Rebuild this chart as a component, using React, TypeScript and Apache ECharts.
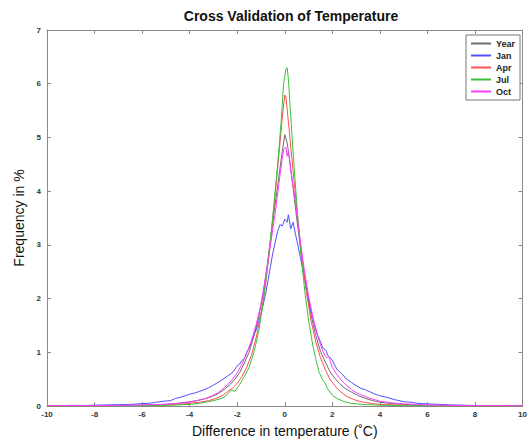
import React, { useEffect, useRef } from "react";
import * as echarts from "echarts";

const seriesNames = ["Year", "Jan", "Apr", "Jul", "Oct"];
const seriesColors = ["#6e6e6e", "#5050ff", "#ff5050", "#3cc03c", "#ff3cff"];

const xTicks = [-10, 10, 2];
const yTicks = [0, 7, 1];

const yearData: number[][] = [
  [-10, 0.0], [-9, 0.003], [-8, 0.005], [-7, 0.008], [-6, 0.015], [-5.5, 0.02], [-5, 0.03], [-4.5, 0.05],
  [-4, 0.08], [-3.7, 0.1], [-3.4, 0.13], [-3.1, 0.17], [-2.8, 0.23], [-2.5, 0.32], [-2.3, 0.4], [-2.1, 0.5],
  [-1.9, 0.62], [-1.7, 0.8], [-1.5, 1.0], [-1.3, 1.3], [-1.1, 1.65], [-0.9, 2.1], [-0.7, 2.75], [-0.5, 3.45],
  [-0.3, 4.1], [-0.15, 4.6], [0, 5.05], [0.1, 4.9], [0.2, 4.6], [0.35, 4.05], [0.5, 3.5], [0.7, 2.8],
  [0.9, 2.2], [1.1, 1.7], [1.3, 1.32], [1.5, 1.02], [1.7, 0.82], [1.9, 0.64], [2.1, 0.52], [2.3, 0.42],
  [2.5, 0.34], [2.8, 0.26], [3.1, 0.19], [3.4, 0.14], [3.7, 0.1], [4, 0.07], [4.5, 0.045], [5, 0.03],
  [5.5, 0.02], [6, 0.012], [7, 0.007], [8, 0.004], [9, 0.002], [10, 0.0],
];

const janData: number[][] = [
  [-10, 0.01], [-9.5, 0.005], [-9, 0.012], [-8.5, 0.01], [-8, 0.015], [-7.5, 0.02], [-7, 0.025], [-6.5, 0.03],
  [-6, 0.045], [-5.7, 0.05], [-5.4, 0.07], [-5.1, 0.09], [-4.8, 0.1], [-4.6, 0.14], [-4.4, 0.16], [-4.2, 0.19],
  [-4, 0.22], [-3.8, 0.24], [-3.6, 0.27], [-3.4, 0.3], [-3.2, 0.34], [-3, 0.39], [-2.8, 0.44], [-2.6, 0.5],
  [-2.4, 0.56], [-2.2, 0.62], [-2.0, 0.75], [-1.9, 0.78], [-1.8, 0.85], [-1.7, 0.88], [-1.6, 1.0], [-1.5, 1.08],
  [-1.4, 1.2], [-1.3, 1.32], [-1.2, 1.42], [-1.1, 1.56], [-1.0, 1.72], [-0.9, 1.9], [-0.8, 2.1], [-0.7, 2.35],
  [-0.6, 2.6], [-0.5, 2.85], [-0.4, 3.05], [-0.3, 3.25], [-0.2, 3.38], [-0.1, 3.35], [0, 3.48], [0.1, 3.42],
  [0.15, 3.56], [0.25, 3.3], [0.35, 3.42], [0.45, 3.2], [0.55, 3.0], [0.65, 2.78], [0.8, 2.45], [0.9, 2.2],
  [1.0, 2.0], [1.1, 1.78], [1.2, 1.6], [1.3, 1.42], [1.4, 1.3], [1.5, 1.2], [1.6, 1.08], [1.7, 1.05],
  [1.75, 1.02], [1.8, 0.95], [1.9, 0.9], [2.0, 0.85], [2.1, 0.76], [2.2, 0.68], [2.4, 0.6], [2.6, 0.5],
  [2.8, 0.44], [3.0, 0.38], [3.2, 0.33], [3.4, 0.3], [3.6, 0.26], [3.8, 0.22], [4.0, 0.19], [4.3, 0.16],
  [4.6, 0.12], [5.0, 0.08], [5.3, 0.07], [5.6, 0.05], [6.0, 0.04], [6.5, 0.03], [7, 0.02], [7.5, 0.015],
  [8, 0.01], [9, 0.008], [10, 0.01],
];

const aprData: number[][] = [
  [-10, 0], [-8, 0.004], [-6, 0.01], [-5, 0.02], [-4.5, 0.03], [-4, 0.05], [-3.6, 0.07], [-3.2, 0.1],
  [-2.9, 0.14], [-2.6, 0.2], [-2.4, 0.27], [-2.2, 0.33], [-2.0, 0.42], [-1.8, 0.55], [-1.6, 0.72], [-1.4, 0.95],
  [-1.2, 1.28], [-1.0, 1.72], [-0.8, 2.3], [-0.6, 3.05], [-0.4, 3.95], [-0.2, 4.9], [-0.1, 5.4], [0, 5.79],
  [0.05, 5.75], [0.15, 5.3], [0.3, 4.6], [0.5, 3.7], [0.7, 2.85], [0.9, 2.15], [1.1, 1.6], [1.3, 1.2],
  [1.5, 0.9], [1.7, 0.68], [1.9, 0.5], [2.1, 0.38], [2.3, 0.28], [2.6, 0.18], [2.9, 0.12], [3.2, 0.08],
  [3.6, 0.05], [4, 0.03], [5, 0.015], [6, 0.008], [8, 0.003], [10, 0],
];

const julData: number[][] = [
  [-10, 0], [-8, 0.003], [-6, 0.008], [-5, 0.012], [-4.5, 0.02], [-4, 0.03], [-3.6, 0.05], [-3.2, 0.08],
  [-2.9, 0.11], [-2.6, 0.15], [-2.4, 0.22], [-2.25, 0.3], [-2.1, 0.27], [-1.9, 0.4], [-1.7, 0.55], [-1.5, 0.72],
  [-1.3, 1.0], [-1.1, 1.38], [-0.9, 1.95], [-0.7, 2.7], [-0.5, 3.55], [-0.3, 4.5], [-0.15, 5.3], [-0.05, 6.0],
  [0.05, 6.28], [0.1, 6.3], [0.15, 6.1], [0.25, 5.4], [0.4, 4.4], [0.55, 3.5], [0.7, 2.75], [0.85, 2.1],
  [1.0, 1.6], [1.15, 1.2], [1.3, 0.88], [1.45, 0.62], [1.6, 0.48], [1.7, 0.42], [1.8, 0.32], [2.0, 0.2],
  [2.2, 0.14], [2.5, 0.08], [2.8, 0.05], [3.2, 0.03], [4, 0.015], [5, 0.008], [7, 0.003], [10, 0],
];

const octData: number[][] = [
  [-10, 0.005], [-9, 0.01], [-8, 0.008], [-7, 0.012], [-6, 0.02], [-5.5, 0.025], [-5, 0.035], [-4.5, 0.05],
  [-4, 0.07], [-3.7, 0.1], [-3.4, 0.13], [-3.1, 0.18], [-2.8, 0.25], [-2.6, 0.32], [-2.4, 0.4], [-2.2, 0.5],
  [-2.0, 0.62], [-1.8, 0.78], [-1.6, 0.98], [-1.4, 1.22], [-1.2, 1.52], [-1.0, 1.9], [-0.8, 2.42], [-0.6, 3.0],
  [-0.4, 3.6], [-0.2, 4.3], [-0.05, 4.78], [0.05, 4.82], [0.1, 4.65], [0.15, 4.75], [0.25, 4.4], [0.4, 3.95],
  [0.6, 3.25], [0.8, 2.6], [1.0, 2.05], [1.2, 1.62], [1.4, 1.28], [1.6, 1.02], [1.75, 0.9], [1.85, 0.92],
  [2.0, 0.72], [2.2, 0.58], [2.4, 0.47], [2.6, 0.38], [2.8, 0.31], [3.0, 0.25], [3.3, 0.19], [3.6, 0.14],
  [4.0, 0.09], [4.5, 0.06], [5, 0.04], [5.5, 0.03], [6, 0.02], [7, 0.012], [8, 0.008], [9, 0.006], [10, 0.004],
];

const allData = [yearData, janData, aprData, julData, octData];

const FONT = "'Liberation Sans', Arial, Helvetica, sans-serif";

export default function App() {
  const ref = useRef<HTMLDivElement>(null);
  useEffect(() => {
    if (!ref.current) return;
    const chart = echarts.init(ref.current, undefined, { renderer: "svg" });
    const axisLine = { show: true, onZero: false, lineStyle: { color: "#8a8a8a", width: 1 } };
    const axisTick = { show: true, inside: true, length: 4, lineStyle: { color: "#8a8a8a" } };
    const labelStyle = { fontSize: 8, fontWeight: "bold", color: "#333", fontFamily: FONT };
    chart.setOption({
      animation: false,
      backgroundColor: "#fff",
      color: seriesColors,
      textStyle: { fontFamily: FONT },
      title: {
        text: "Cross Validation of Temperature",
        left: 286,
        top: 4,
        textAlign: "center",
        textStyle: { fontSize: 14, fontWeight: "bold", color: "#111", fontFamily: FONT },
      },
      legend: {
        data: seriesNames,
        orient: "vertical",
        left: 466,
        top: 35,
        padding: [3, 5, 3, 4],
        itemGap: 1,
        itemWidth: 20,
        itemHeight: 8,
        itemStyle: { opacity: 0, borderWidth: 0 },
        borderColor: "#777",
        borderWidth: 1,
        backgroundColor: "#fff",
        textStyle: { fontSize: 9, fontWeight: "bold", color: "#222", fontFamily: FONT, lineHeight: 11, height: 11 },
      },
      grid: { left: 47, right: 5, top: 30, bottom: 38, containLabel: false },
      xAxis: [
        {
          type: "value",
          min: xTicks[0],
          max: xTicks[1],
          interval: xTicks[2],
          position: "bottom",
          axisLine,
          axisTick,
          axisLabel: { ...labelStyle, margin: 4 },
          splitLine: { show: false },
          name: "Difference in temperature (˚C)",
          nameLocation: "middle",
          nameGap: 18,
          nameTextStyle: { fontSize: 14, color: "#111", fontFamily: FONT },
        },
        {
          type: "value",
          min: xTicks[0],
          max: xTicks[1],
          interval: xTicks[2],
          position: "top",
          axisLine,
          axisTick,
          axisLabel: { show: false },
          splitLine: { show: false },
        },
      ],
      yAxis: [
        {
          type: "value",
          min: yTicks[0],
          max: yTicks[1],
          interval: yTicks[2],
          position: "left",
          axisLine,
          axisTick,
          axisLabel: { ...labelStyle, margin: 6 },
          splitLine: { show: false },
          name: "Frequency in %",
          nameLocation: "middle",
          nameGap: 14,
          nameTextStyle: { fontSize: 14, color: "#111", fontFamily: FONT },
        },
        {
          type: "value",
          min: yTicks[0],
          max: yTicks[1],
          interval: yTicks[2],
          position: "right",
          axisLine,
          axisTick,
          axisLabel: { show: false },
          splitLine: { show: false },
        },
      ],
      series: seriesNames.map((name, i) => ({
        name,
        type: "line",
        data: allData[i],
        xAxisIndex: 0,
        yAxisIndex: 0,
        showSymbol: false,
        symbol: "none",
        smooth: false,
        itemStyle: { color: seriesColors[i] },
        lineStyle: { width: 1, color: seriesColors[i] },
      })),
    });
    return () => chart.dispose();
  }, []);
  return <div ref={ref} style={{ position: "absolute", left: 0, top: 0, width: 530, height: 444 }} />;
}
